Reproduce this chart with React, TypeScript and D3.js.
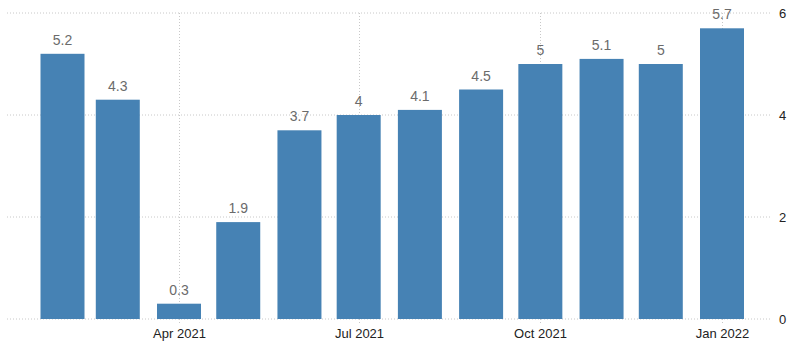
import React from "react";
import * as d3 from "d3";

const months = ["2021-02", "2021-03", "2021-04", "2021-05", "2021-06", "2021-07", "2021-08", "2021-09", "2021-10", "2021-11", "2021-12", "2022-01"];
const values = [5.2, 4.3, 0.3, 1.9, 3.7, 4, 4.1, 4.5, 5, 5.1, 5, 5.7];
const yTicks = [0, 2, 4, 6];
const xTickDates = ["2021-04", "2021-07", "2021-10", "2022-01"];

const W = 800;
const H = 348;
const plotLeft = 7;
const plotRight = 772;
const plotTop = 13;
const plotBottom = 319;
const barWidth = 44;

const parse = d3.timeParse("%Y-%m");

export default function App() {
  const x = d3
    .scaleTime()
    .domain([parse("2021-04")!, parse("2022-01")!])
    .range([179, 722]);
  const y = d3.scaleLinear().domain([0, 6]).range([plotBottom, plotTop]);
  const fmt = d3.timeFormat("%b %Y");
  const font = "'Liberation Sans', Arial, sans-serif";

  return (
    <svg
      width={W}
      height={H}
      style={{ position: "absolute", left: 0, top: 0, background: "#fff" }}
    >
      {yTicks.map((t) => (
        <g key={"y" + t}>
          <line
            x1={plotLeft}
            x2={plotRight}
            y1={y(t)}
            y2={y(t)}
            stroke="#c8c8c8"
            strokeDasharray="1,2"
            strokeWidth={1}
          />
          <text
            x={779}
            y={y(t) + 5}
            fontSize={13}
            fontFamily={font}
            fill="#222"
          >
            {t}
          </text>
        </g>
      ))}
      {xTickDates.map((d) => {
        const px = Math.round(x(parse(d)!)) + 0.5;
        return (
          <g key={d}>
            <line
              x1={px}
              x2={px}
              y1={plotTop}
              y2={plotBottom + 4}
              stroke="#c8c8c8"
              strokeDasharray="1,2"
              strokeWidth={1}
            />
            <text
              x={px}
              y={338}
              textAnchor="middle"
              fontSize={13}
              fontFamily={font}
              fill="#222"
            >
              {fmt(parse(d)!)}
            </text>
          </g>
        );
      })}
      {months.map((m, i) => {
        const cx = x(parse(m)!);
        const v = values[i];
        return (
          <g key={m}>
            <rect
              x={cx - barWidth / 2}
              y={y(v)}
              width={barWidth}
              height={y(0) - y(v)}
              fill="#4682b4"
            />
            <text
              x={cx}
              y={y(v) - 9}
              textAnchor="middle"
              fontSize={14}
              fontFamily={font}
              fill="#6b6b6b"
            >
              {String(v)}
            </text>
          </g>
        );
      })}
    </svg>
  );
}
